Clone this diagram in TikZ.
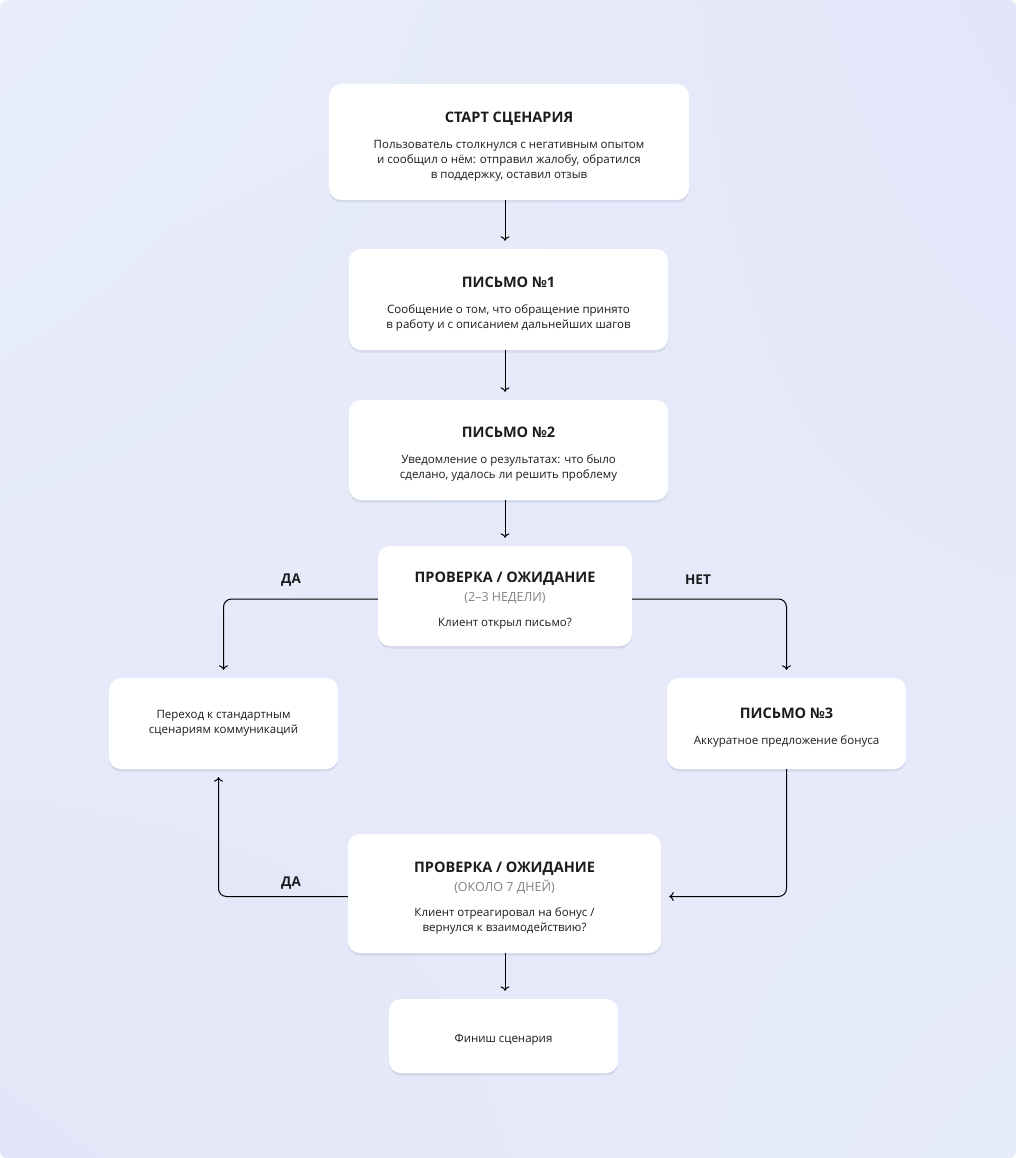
\documentclass[tikz,border=0pt]{standalone}
\usepackage{fontspec}
\setmainfont{Open Sans}
\usetikzlibrary{arrows.meta,shadows,shadings}

\definecolor{bgul}{RGB}{233,238,250}
\definecolor{bgur}{RGB}{227,230,249}
\definecolor{bgll}{RGB}{227,230,248}
\definecolor{bglr}{RGB}{230,235,249}
\definecolor{subgrey}{RGB}{130,130,130}
\definecolor{txt}{RGB}{28,28,30}

\newcommand{\bhead}[1]{{\rule{0pt}{19.5pt}\fontsize{14.5}{17}\selectfont\bfseries #1}}
\newcommand{\bsub}[1]{{\fontsize{12.5}{15}\selectfont\color{subgrey}#1}}

\tikzset{
  card/.style={rectangle, rounded corners=12pt, fill=white, inner sep=0pt,
    align=center, text=txt, font=\fontsize{11.5}{15}\selectfont,
    execute at begin node={\rule{0pt}{16.5pt}},
    drop shadow={shadow xshift=0pt, shadow yshift=-2.5pt, opacity=.07, fill=black!80!blue}},
  arr/.style={draw=black, line width=1pt, -{To[length=4.5pt,width=9pt]}, shorten >=8pt},
  lbl/.style={text=txt, font=\fontsize{13.5}{16}\selectfont\bfseries}
}

\begin{document}
\begin{tikzpicture}[x=1pt,y=-1pt]
  \useasboundingbox (0,0) rectangle (1016,1158);
  \fill[white] (0,0) rectangle (1016,1158);
  \shade[rounded corners=7pt, upper left=bgul, upper right=bgur,
         lower left=bgll, lower right=bglr] (0,0) rectangle (1016,1158);

  % boxes
  \node[card, minimum width=360pt, minimum height=116pt] (start) at (509,142)
    {\bhead{СТАРТ СЦЕНАРИЯ}\\[11pt]
     Пользователь столкнулся с негативным опытом\\
     и сообщил о нём: отправил жалобу, обратился\\
     в поддержку, оставил отзыв};
  \node[card, minimum width=319pt, minimum height=101pt] (mail1) at (508.5,299.5)
    {\bhead{ПИСЬМО №1}\\[11pt]
     Сообщение о том, что обращение принято\\
     в работу и с описанием дальнейших шагов};
  \node[card, minimum width=319pt, minimum height=100pt] (mail2) at (508.5,450)
    {\bhead{ПИСЬМО №2}\\[11pt]
     Уведомление о результатах: что было\\
     сделано, удалось ли решить проблему};
  \node[card, minimum width=254pt, minimum height=100pt] (check1) at (505,596)
    {\bhead{ПРОВЕРКА / ОЖИДАНИЕ}\\[4pt]
     \bsub{(2–3 НЕДЕЛИ)}\\[10pt]
     Клиент открыл письмо?};
  \node[card, minimum width=229pt, minimum height=91pt] (std) at (223.5,723.5)
    {Переход к стандартным\\ сценариям коммуникаций};
  \node[card, minimum width=239pt, minimum height=91pt] (mail3) at (786.5,723.5)
    {\bhead{ПИСЬМО №3}\\[11pt]
     Аккуратное предложение бонуса};
  \node[card, minimum width=313pt, minimum height=119pt] (check2) at (504.5,893.5)
    {\bhead{ПРОВЕРКА / ОЖИДАНИЕ}\\[4pt]
     \bsub{(ОКОЛО 7 ДНЕЙ)}\\[10pt]
     Клиент отреагировал на бонус /\\
     вернулся к взаимодействию?};
  \node[card, minimum width=229pt, minimum height=74pt] (finish) at (503.5,1036)
    {Финиш сценария};

  % connectors
  \draw[arr] (start.south -| check1.north) -- (mail1.north -| check1.north);
  \draw[arr] (mail1.south -| check1.north) -- (mail2.north -| check1.north);
  \draw[arr] (mail2.south -| check1.north) -- (check1.north);
  \draw[arr, rounded corners=8pt] ([yshift=-3pt]check1.west) -| (std.north);
  \draw[arr, rounded corners=8pt] ([yshift=-3pt]check1.east) -| (mail3.north);
  \draw[arr, rounded corners=8pt] (mail3.south) |- ([yshift=-3pt]check2.east);
  \draw[arr, rounded corners=8pt] ([yshift=-3pt]check2.west) -| ([xshift=-5pt]std.south);
  \draw[arr] (check2.south -| check1.north) -- (finish.north -| check1.north);

  \node[lbl] (yes1) at (291,580) {ДА};
  \node[lbl] (no1) at (698,580) {НЕТ};
  \node[lbl] (yes2) at (291,883) {ДА};
\end{tikzpicture}
\end{document}
